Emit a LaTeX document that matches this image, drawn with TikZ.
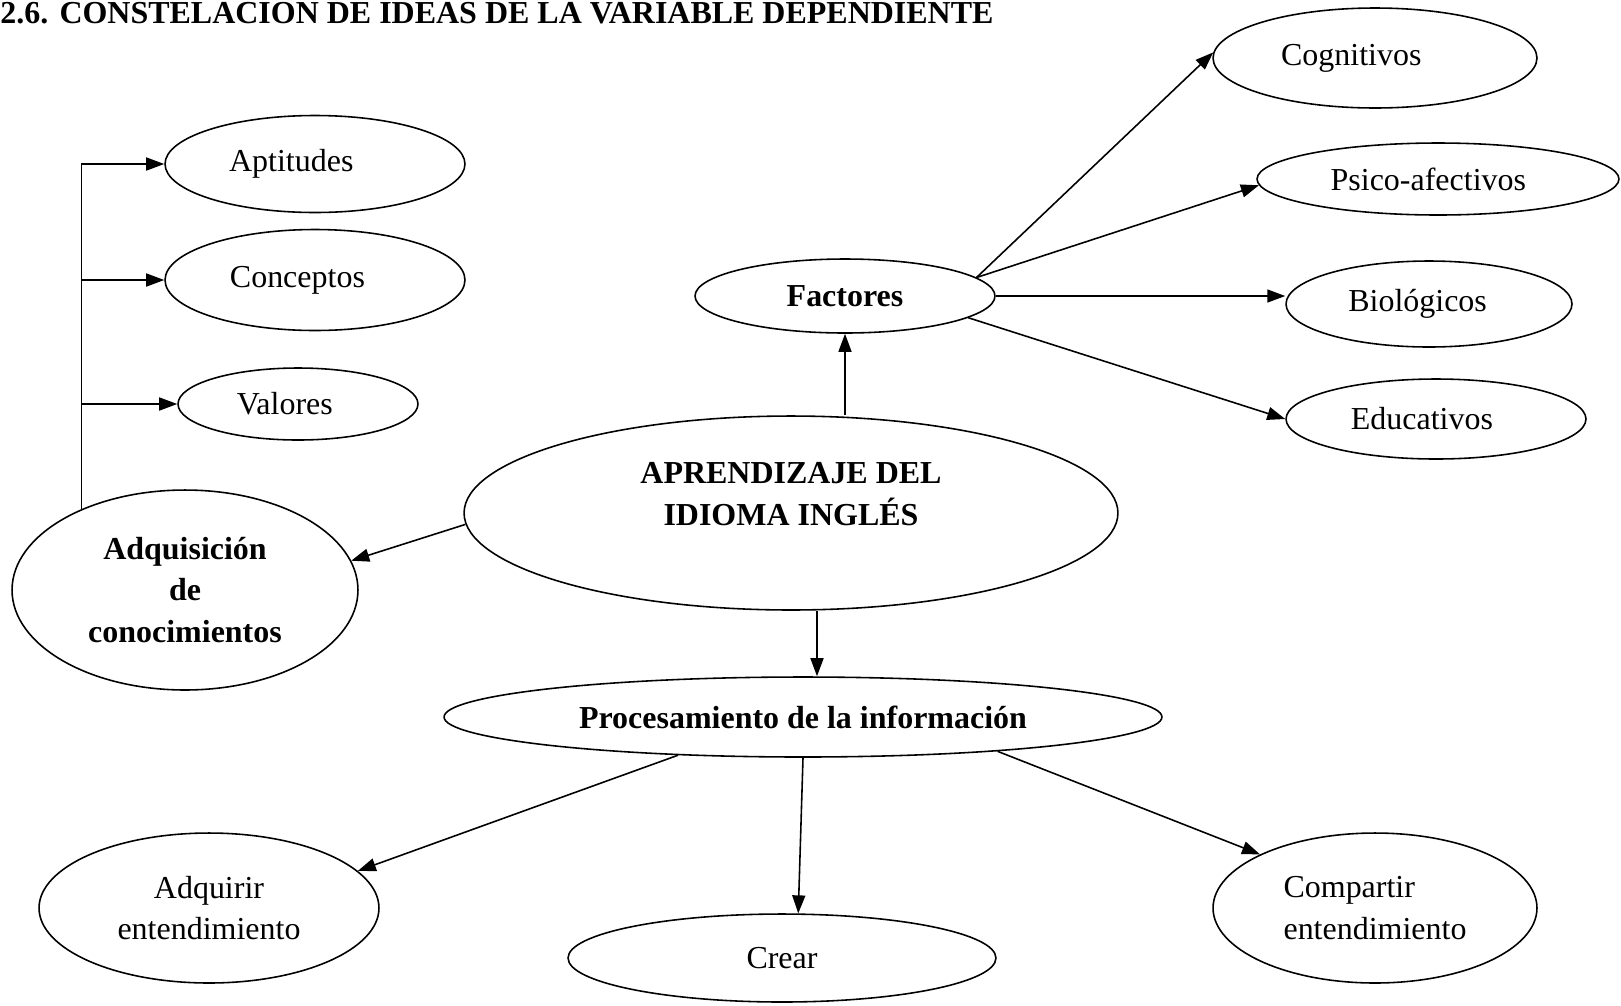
\documentclass[tikz,border=0pt]{standalone}
\usepackage{fontspec}
\setmainfont{Liberation Serif}
\usetikzlibrary{arrows.meta, shapes.geometric}

\begin{document}
\begin{tikzpicture} [x = 0.02cm, y = -0.02cm]
        %style
        \tikzset{elipse/.style = {shape=ellipse, draw, inner sep=0pt, align=center, line width=0.9pt, font=\fontsize{18.2}{23.6}\selectfont}}
        \tikzset{negrita/.style = {font=\fontsize{18.2}{23.6}\selectfont\bfseries}}
        \tikzset{flecha/.style = {-{Triangle[length=3.6mm, width=2.6mm]}, line width=0.9pt}}
        \useasboundingbox (0,0) rectangle (1621,1005);
        \node[anchor=base west, inner sep=0pt, negrita] (titulo) at (0,23) {2.6.\hspace{0.35em}CONSTELACION DE IDEAS DE LA VARIABLE DEPENDIENTE};
        % centro
        \node[elipse, negrita, minimum width=13.08cm, minimum height=3.88cm] (apr)  at (791,513) {APRENDIZAJE DEL\\IDIOMA INGLÉS\\[-2pt]\mbox{}};
        % izquierda
        \node[elipse, negrita, minimum width=6.92cm, minimum height=4.0cm]   (adq)  at (185,590) {Adquisición\\de\\conocimientos};
        \node[elipse, minimum width=6.0cm, minimum height=1.94cm]  (apt)  at (315,164) {Aptitudes\hspace*{27pt}};
        \node[elipse, minimum width=6.0cm, minimum height=2.02cm]  (con)  at (315,280) {Conceptos\hspace*{20pt}};
        \node[elipse, minimum width=4.8cm, minimum height=1.44cm]  (val)  at (298,404) {Valores\hspace*{15pt}};
        % arriba
        \node[elipse, negrita, minimum width=6.0cm, minimum height=1.48cm]   (fac)  at (845,296) {Factores};
        \node[elipse, minimum width=6.48cm, minimum height=2.0cm]  (cog)  at (1375,58) {Cognitivos\hspace*{27pt}};
        \node[elipse, minimum width=7.24cm, minimum height=1.44cm] (psi)  at (1438,179) {Psico-afectivos\hspace*{11pt}};
        \node[elipse, minimum width=5.72cm, minimum height=1.72cm] (bio)  at (1429,304) {Biológicos\hspace*{13pt}};
        \node[elipse, minimum width=6.0cm, minimum height=1.6cm]   (edu)  at (1436,419) {Educativos\hspace*{16pt}};
        % abajo
        \node[elipse, negrita, minimum width=14.36cm, minimum height=1.6cm]  (proc) at (803,717) {Procesamiento de la información};
        \node[elipse, minimum width=6.8cm, minimum height=3.0cm]   (adqr) at (209,908) {Adquirir\\entendimiento};
        \node[elipse, minimum width=8.56cm, minimum height=1.76cm] (crear) at (782,958) {Crear};
        \node[elipse, align=left, minimum width=6.48cm, minimum height=3.0cm] (comp) at (1375,908) {Compartir\\entendimiento};
        % conectores
        \draw [flecha] (apr.182) to (adq.10);
        \draw [flecha] (adq.142.7) |- (apt.west);
        \draw [flecha] (adq.142.7 |- con.west) to (con.west);
        \draw [flecha] (adq.142.7 |- val.west) to (val.west);
        \draw [flecha] (apr.north -| fac.south) to (fac.south);
        \draw [flecha] (fac.8) to (cog.178);
        \draw [flecha] (fac.8) to (psi.182);
        \draw [flecha] (fac.east) to (fac.east -| bio.west);
        \draw [flecha] (fac.-10) to (edu.west);
        \draw [flecha] (817,0 |- apr.south) to (817,0 |- proc.north);
        \draw [flecha] (proc.197) to (adqr.14);
        \draw [flecha] (proc.south) to (crear.70);
        \draw [flecha] (proc.-10) to (comp.155);
\end{tikzpicture}
\end{document}
